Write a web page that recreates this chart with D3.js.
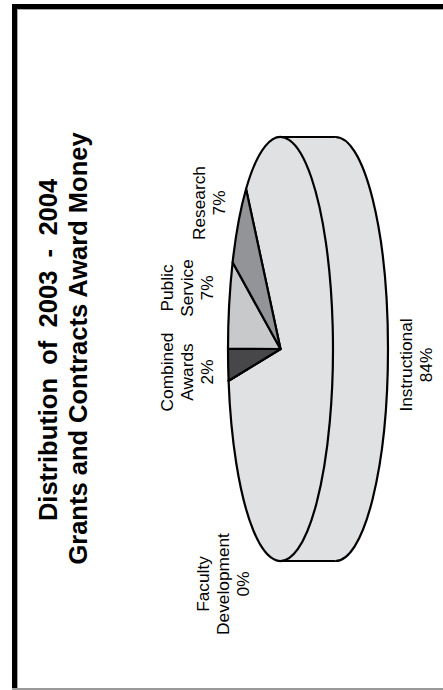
<!DOCTYPE html>
<html><head><meta charset="utf-8">
<script src="https://cdn.jsdelivr.net/npm/d3@7"></script>
<style>html,body{margin:0;padding:0;background:#fff}svg{display:block}text{font-family:"Liberation Sans",Arial,sans-serif;fill:#000}</style>
</head><body><svg id="c" width="443" height="690"></svg>
<script>
const categories = ["Instructional","Faculty Development","Combined Awards","Public Service","Research"];
const values = [84, 0, 2.4, 6.7, 6.9];
const percentLabels = ["84%","0%","2%","7%","7%"];
const colors = ["#e0e1e3","#e0e1e3","#47474a","#c8c9cb","#939498"];
const titleLines = ["Distribution of 2003 - 2004","Grants and Contracts Award Money"];

const svg = d3.select("#c");
// frame
svg.append("rect").attr("x",17).attr("y",9).attr("width",426).attr("height",679).attr("fill","#fff");
svg.append("rect").attr("x",12).attr("y",4).attr("width",431).attr("height",5).attr("fill","#000");
svg.append("rect").attr("x",12).attr("y",4).attr("width",5).attr("height",685).attr("fill","#000");
svg.append("rect").attr("x",17).attr("y",9).attr("width",426).attr("height",1).attr("fill","#aaa");
svg.append("rect").attr("x",17).attr("y",9).attr("width",1).attr("height",679).attr("fill","#aaa");
svg.append("rect").attr("x",12).attr("y",688).attr("width",431).attr("height",2).attr("fill","#999");

// pie geometry: unit pie squashed into an ellipse, extruded to the right
const cx=280.5, cy=349, rx=52.5, ry=212, depth=55, sw=2.2;
const start=319*Math.PI/180;
const pie=d3.pie().sort(null).startAngle(start).endAngle(start+2*Math.PI)(values);
const arc=d3.arc().innerRadius(0).outerRadius(1);
const ell=(g,x)=>g.append("g").attr("transform",`translate(${x},${cy}) scale(${rx},${ry})`);

// side wall
const wall=ell(svg,cx+depth);
wall.append("path").attr("d",arc({startAngle:0,endAngle:2*Math.PI}))
  .attr("fill",colors[0]).attr("stroke","#000").attr("stroke-width",sw).attr("vector-effect","non-scaling-stroke");
svg.append("rect").attr("x",cx).attr("y",cy-ry).attr("width",depth).attr("height",2*ry).attr("fill",colors[0]);
[cy-ry,cy+ry].forEach(y=>svg.append("line").attr("x1",cx).attr("x2",cx+depth).attr("y1",y).attr("y2",y).attr("stroke","#000").attr("stroke-width",sw));

// top face
const face=ell(svg,cx);
face.selectAll("path").data(pie).join("path").attr("d",arc)
  .attr("fill",(d,i)=>colors[i]).attr("stroke","#000").attr("stroke-width",sw)
  .attr("stroke-linejoin","round").attr("vector-effect","non-scaling-stroke");

// rotated text helper
function rot(x,y,lines,size,weight,lh,ws){
  const t=svg.append("text").attr("transform",`translate(${x},${y}) rotate(-90)`)
    .attr("text-anchor","middle").attr("font-size",size).attr("font-weight",weight||"normal")
    .attr("word-spacing",ws||0);
  lines.forEach((l,i)=>t.append("tspan").attr("x",0).attr("y",i*lh).text(l));
}
rot(57,350,[titleLines[0]],25.5,"bold",0,6.2);
rot(87,348.5,[titleLines[1]],25.5,"bold",0);

const labelAt=[[412,365],[209,584],[173,372],[173,288],[205,203]];
const split=[[categories[0]],["Faculty","Development"],["Combined","Awards"],["Public","Service"],[categories[4]]];
categories.forEach((c,i)=>{
  rot(labelAt[i][0],labelAt[i][1],[...split[i],percentLabels[i]],17.3,"normal",20.2);
});
</script></body></html>
